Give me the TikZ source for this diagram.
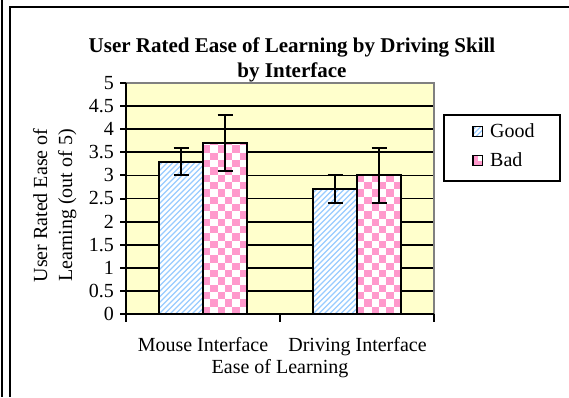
\documentclass[tikz,border=0pt]{standalone}
\usepackage{fontspec}
\setmainfont{Liberation Serif}
\definecolor{plotbg}{RGB}{255,255,204}
\definecolor{goodblue}{RGB}{153,204,255}
\definecolor{badpink}{RGB}{255,153,204}

% value -> vertical page position (0 at 314, 5 at 83)
\newcommand\valy[1]{314-46.2*#1}

% hatched bar: left, right, value
\newcommand\stripebar[3]{%
  \pgfmathsetmacro\bartop{\valy{#3}}
  \begin{scope}
    \clip (#1,\bartop) rectangle (#2,314);
    \fill[white] (#1,\bartop) rectangle (#2,314);
    \foreach \k in {-220,-214.5,...,50}
      \draw[goodblue, line width=1.2pt] (#1+\k,314) -- ++(230,-230);
  \end{scope}
  \draw[barline] (#1,\bartop) rectangle (#2,314);
}

% checkered bar: left, right, value
\newcommand\checkbar[3]{%
  \pgfmathsetmacro\bartop{\valy{#3}}
  \begin{scope}
    \clip (#1,\bartop) rectangle (#2,314);
    \fill[white] (#1,\bartop) rectangle (#2,314);
    \foreach \i in {0,...,5}{
      \foreach \j in {0,...,24}{
        \pgfmathtruncatemacro\parity{mod(\i+\j,2)}
        \ifnum\parity=0
          \fill[badpink] (#1+7.333*\i,314-7.333*\j) rectangle ++(7.333,-7.333);
        \fi
      }
    }
  \end{scope}
  \draw[barline] (#1,\bartop) rectangle (#2,314);
}

% error bar: x, low, high
\newcommand\errbar[3]{%
  \pgfmathsetmacro\ylo{\valy{#2}}
  \pgfmathsetmacro\yhi{\valy{#3}}
  \draw[errline] (#1,\ylo) -- (#1,\yhi)
    (#1-7.5,\ylo) -- (#1+7.5,\ylo)
    (#1-7.5,\yhi) -- (#1+7.5,\yhi);
}

\begin{document}
\begin{tikzpicture}[x=1pt, y=-1pt,
  txt/.style={font=\fontsize{20}{23}\selectfont, inner sep=0pt},
  ttl/.style={font=\fontsize{21}{24}\selectfont\bfseries, inner sep=0pt},
  gridline/.style={black, line width=1.8pt},
  barline/.style={black, line width=2pt},
  errline/.style={black, line width=2pt},
  axisline/.style={black, line width=2pt}]
\useasboundingbox (0,0) rectangle (569,397);

% page frame
\draw[line width=1.5pt] (2,0) -- (2,397);
\draw[line width=2pt] (10,397) -- (10,7) -- (569,7);

% title
\node[ttl, anchor=base] (title1) at (292,52) {User Rated Ease of Learning by Driving Skill};
\node[ttl, anchor=base] (title2) at (292,77) {by Interface};

% plot area
\fill[plotbg] (126,83) rectangle (434,314);
\foreach \v in {0.5,1,1.5,2,2.5,3,3.5,4,4.5}
  \draw[gridline] (126,{\valy{\v}}) -- (434,{\valy{\v}});
\draw[gray, line width=1.6pt] (126,83) -- (434,83) -- (434,314);

% bars
\stripebar{159}{203}{3.3}
\checkbar{203}{247}{3.7}
\stripebar{313}{357}{2.7}
\checkbar{357}{401}{3.0}

% error bars
\errbar{181}{3.0}{3.6}
\errbar{225}{3.1}{4.3}
\errbar{335}{2.4}{3.0}
\errbar{379}{2.4}{3.6}

% axes and ticks
\draw[axisline] (126,83) -- (126,314) -- (434,314);
\foreach \v in {0,0.5,1,1.5,2,2.5,3,3.5,4,4.5,5}{
  \draw[axisline] (120,{\valy{\v}}) -- (126,{\valy{\v}});
  \node[txt, anchor=east] (tick\v) at (114,{\valy{\v}}) {\v};
}
\foreach \x in {126,280,434}
  \draw[axisline] (\x,314) -- (\x,322);

% axis titles
\node[txt, anchor=base] (cat1) at (203,351.5) {Mouse Interface};
\node[txt, anchor=base] (cat2) at (357.5,351.5) {Driving Interface};
\node[txt, anchor=base] (xlab) at (280,373) {Ease of Learning};
\node[txt, anchor=base, rotate=90] (ylab1) at (47,205.5) {User Rated Ease of};
\node[txt, anchor=base, rotate=90] (ylab2) at (72,205.5) {Learning (out of 5)};

% legend
\node[draw, line width=2pt, fill=white, minimum width=116pt, minimum height=66pt, inner sep=0pt] (legend) at (502,148) {};
\begin{scope}
  \clip (473,126.5) rectangle (482.5,136.5);
  \fill[white] (473,126.5) rectangle (482.5,136.5);
  \foreach \k in {-12,-7,...,8}
    \draw[goodblue, line width=1.2pt] (473+\k,136.5) -- ++(14,-14);
\end{scope}
\draw[line width=1.8pt] (473,126.5) rectangle (482.5,136.5);
\fill[badpink] (473,155.5) rectangle (482.5,165.5);
\fill[white] (478,155.5) rectangle (482.5,160.5);
\draw[line width=1.8pt] (473,155.5) rectangle (482.5,165.5);
\node[txt, anchor=base west] (lgood) at (490,137) {Good};
\node[txt, anchor=base west] (lbad) at (490,166) {Bad};
\end{tikzpicture}
\end{document}
